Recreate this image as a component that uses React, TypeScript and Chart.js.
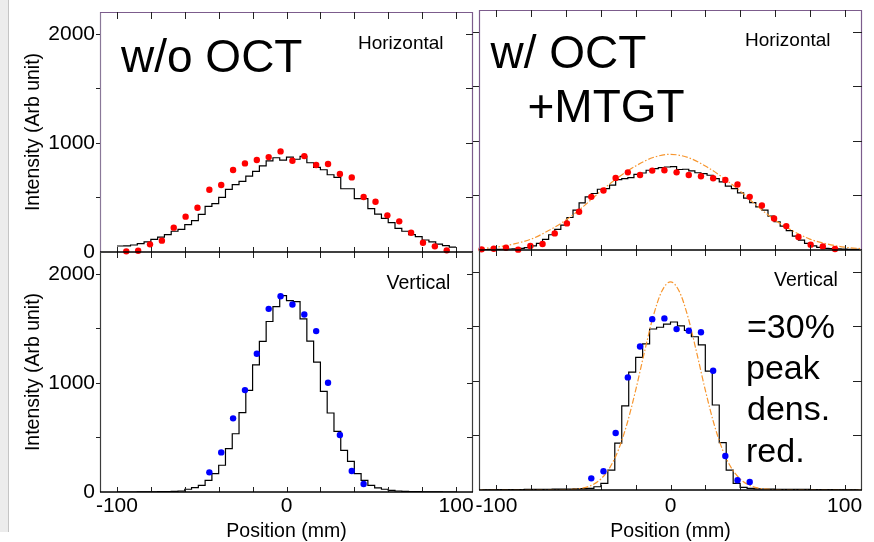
import React, { useEffect, useRef } from 'react';
import { Chart, registerables } from 'chart.js';

Chart.register(...registerables);

const FONT = '"Liberation Sans", Arial, Helvetica, sans-serif';

// ---- axis ticks ----
const X_TICKS = [-100, -80, -60, -40, -20, 0, 20, 40, 60, 80, 100];
const X_LABELS = [-100, 0, 100];
const Y_TICKS = [0, 500, 1000, 1500, 2000];
const Y_LABELS = [0, 1000, 2000];

// ---- histogram bin edges ----
const EDGES_L = [-100, -96, -92, -88, -84, -80, -76, -72, -68, -64, -60, -56, -52, -48, -44, -40, -36, -32, -28, -24, -20, -16, -12, -8, -4, 0, 4, 8, 12, 16, 20, 24, 28, 32, 36, 40, 44, 48, 52, 56, 60, 64, 68, 72, 76, 80, 84, 88, 92, 96, 100];
const EDGES_TR = [-108.5, -105, -101.5, -98, -94.5, -91, -87.5, -84, -80.5, -77, -73.5, -70, -66.5, -63, -59.5, -56, -52.5, -49, -45.5, -42, -38.5, -35, -31.5, -28, -24.5, -21, -17.5, -14, -10.5, -7, -3.5, 0, 3.5, 7, 10.5, 14, 17.5, 21, 24.5, 28, 31.5, 35, 38.5, 42, 45.5, 49, 52.5, 56, 59.5, 63, 66.5, 70, 73.5, 77, 80.5, 84, 87.5, 91, 94.5, 98, 101.5, 105, 108.5];
const EDGES_BR = [-108, -104, -100, -96, -92, -88, -84, -80, -76, -72, -68, -64, -60, -56, -52, -48, -44, -40, -36, -32, -28, -24, -20, -16, -12, -8, -4, 0, 4, 8, 12, 16, 20, 24, 28, 32, 36, 40, 44, 48, 52, 56, 60, 64, 68, 72, 76, 80, 84, 88, 92, 96, 100, 104, 108];

// ---- histogram values (simulation) ----
const TL_HIST = [55, 57, 64, 77, 92, 116, 137, 159, 190, 208, 251, 287, 345, 418, 443, 501, 574, 617, 647, 696, 739, 790, 836, 864, 842, 870, 850, 876, 818, 775, 754, 708, 684, 580, 580, 489, 489, 397, 348, 308, 269, 217, 190, 159, 141, 110, 92, 73, 58, 45];
const BL_HIST = [0, 0, 0, 1, 1, 2, 3, 4, 6, 9, 25, 40, 61, 107, 168, 245, 397, 534, 727, 931, 1166, 1380, 1563, 1700, 1800, 1755, 1746, 1587, 1383, 1191, 922, 724, 556, 382, 281, 168, 107, 61, 37, 25, 15, 9, 6, 4, 3, 2, 1, 1, 0, 0];
const TR_HIST = [4, 5, 6, 7, 9, 11, 15, 22, 37, 61, 97, 140, 189, 228, 298, 365, 432, 487, 518, 557, 563, 594, 645, 654, 664, 694, 706, 731, 746, 755, 761, 765, 738, 740, 725, 708, 700, 685, 655, 624, 586, 563, 524, 476, 435, 396, 365, 311, 259, 219, 177, 128, 91, 61, 37, 24, 15, 12, 10, 8, 6, 5];
const BR_HIST = [2, 2, 3, 3, 4, 4, 5, 5, 6, 7, 8, 9, 9, 10, 12, 15, 30, 61, 183, 430, 772, 1080, 1215, 1340, 1476, 1492, 1520, 1540, 1505, 1462, 1405, 1330, 1090, 779, 434, 183, 61, 24, 15, 11, 9, 8, 7, 6, 6, 5, 5, 4, 4, 3, 3, 2, 2, 2];

// ---- measured points ----
const TL_DOT_X = [-94.5, -87.5, -80.5, -73.5, -66.5, -59.5, -52.5, -45.5, -38.5, -31.5, -24.5, -17.5, -10.5, -3.5, 3.5, 10.5, 17.5, 24.5, 31.5, 38.5, 45.5, 52.5, 59.5, 66.5, 73.5, 80.5, 87.5, 94.5];
const TL_DOT_Y = [6, 12, 70, 104, 223, 324, 406, 571, 614, 751, 812, 843, 870, 922, 837, 879, 797, 806, 715, 684, 504, 461, 336, 281, 177, 85, 52, 15];
const TR_DOT_X = [-108.5, -101.5, -94.5, -87.5, -80.5, -73.5, -66.5, -59.5, -52.5, -45.5, -38.5, -31.5, -24.5, -17.5, -10.5, -3.5, 3.5, 10.5, 17.5, 24.5, 31.5, 38.5, 45.5, 52.5, 59.5, 66.5, 73.5, 80.5, 87.5, 94.5];
const TR_DOT_Y = [6, 12, 21, 3, 37, 55, 152, 244, 350, 487, 545, 661, 712, 688, 728, 731, 712, 688, 676, 658, 642, 600, 487, 408, 289, 219, 119, 49, 33, 9];
const V_DOT_X = [-45.5, -38.5, -31.5, -24.5, -17.5, -10.5, -3.5, 3.5, 10.5, 17.5, 24.5, 31.5, 38.5, 45.5];
const BL_DOT_Y = [180, 363, 675, 934, 1267, 1679, 1794, 1719, 1627, 1475, 1002, 522, 192, 73];
const BR_DOT_Y = [107, 172, 523, 1032, 1315, 1566, 1573, 1475, 1460, 1446, 1093, 311, 90, 73];

// ---- fitted gaussian curves ----
const TR_FIT_X = [-110, -100, -90, -80, -70, -60, -50, -40, -30, -20, -10, 0, 10, 20, 30, 40, 50, 60, 70, 80, 90, 100, 110];
const TR_FIT_Y = [12, 26, 55, 100, 178, 275, 400, 540, 665, 770, 848, 877, 848, 770, 665, 540, 400, 275, 178, 100, 55, 26, 12];
const BR_FIT_X = [-110, -90, -70, -60, -50, -45, -40, -35, -30, -25, -20, -15, -10, -5, 0, 5, 10, 15, 20, 25, 30, 35, 40, 45, 50, 60, 70, 90, 110];
const BR_FIT_Y = [0, 0, 1, 3, 19, 46, 101, 201, 365, 605, 915, 1262, 1588, 1822, 1908, 1822, 1588, 1262, 915, 605, 365, 201, 101, 46, 19, 3, 1, 0, 0];

const RED = '#ff0000';
const BLUE = '#0000ff';
const ORANGE = '#f7962f';
const PURPLE = '#7c5c8c';
const DARK = '#3c3c3c';

function histPoints(edges: number[], vals: number[]) {
  const pts = vals.map((v, i) => ({ x: edges[i], y: v }));
  pts.push({ x: edges[edges.length - 1], y: vals[vals.length - 1] });
  return pts;
}
function pairs(xs: number[], ys: number[]) {
  return xs.map((x, i) => ({ x, y: ys[i] }));
}

type TextItem = { text: string; x: number; y: number; size: number };
type Decor = {
  frameLeft: string;
  frameRight: string;
  frameTop: string | null;
  xTopIn: number;
  xBotUp: number;
  xBotDown: number;
  yLeftOut: number;
  yRightIn: number;
  texts: TextItem[];
};

function makeDecor(d: Decor) {
  return {
    id: 'decor',
    afterDatasetsDraw(chart: any) {
      const { ctx, chartArea: a, scales } = chart;
      const xs = scales.x;
      const ys = scales.y;
      ctx.save();
      const line = (x1: number, y1: number, x2: number, y2: number, c: string, w = 1) => {
        ctx.strokeStyle = c;
        ctx.lineWidth = w;
        ctx.beginPath();
        ctx.moveTo(x1, y1);
        ctx.lineTo(x2, y2);
        ctx.stroke();
      };
      const L = Math.round(a.left) + 0.5;
      const R = Math.round(a.right) - 0.5;
      const T = Math.round(a.top) + 0.5;
      const B = Math.round(a.bottom);
      // frame
      line(L, a.top, L, a.bottom, d.frameLeft, 1.2);
      line(R, a.top, R, a.bottom, d.frameRight, 1.2);
      if (d.frameTop) line(a.left, T, a.right, T, d.frameTop, 1.2);
      // x ticks
      for (const v of X_TICKS) {
        const px = Math.round(xs.getPixelForValue(v)) + 0.5;
        if (d.xTopIn > 0) line(px, a.top, px, a.top + d.xTopIn, '#222', 1);
        line(px, B - d.xBotUp, px, B + d.xBotDown, '#222', 1);
      }
      // y ticks
      for (const v of Y_TICKS) {
        const py = Math.round(ys.getPixelForValue(v)) + 0.5;
        if (v === 0) continue;
        line(a.left - d.yLeftOut, py, a.left, py, '#222', 1);
        line(a.right - d.yRightIn, py, a.right, py, '#222', 1);
      }
      // x axis line
      line(a.left, B, a.right, B, '#000', 1.6);
      // annotations
      ctx.fillStyle = '#000';
      ctx.textAlign = 'left';
      ctx.textBaseline = 'alphabetic';
      for (const t of d.texts) {
        ctx.font = `${t.size}px ${FONT}`;
        ctx.fillText(t.text, t.x, t.y);
      }
      ctx.restore();
    },
  };
}

type PanelCfg = {
  left: number;
  top: number;
  w: number;
  h: number;
  padding: { left: number; right: number; top: number; bottom: number };
  yLabels: boolean;
  xLabels: boolean;
  xAxisH: number;
  xTickPad: number;
  datasets: any[];
  decor: Decor;
};

function buildConfig(p: PanelCfg): any {
  const yScale: any = p.yLabels
    ? {
        type: 'linear',
        min: 0,
        max: 2200,
        position: 'left',
        grid: { display: false, drawTicks: false },
        border: { display: false },
        afterBuildTicks: (s: any) => {
          s.ticks = Y_LABELS.map((v) => ({ value: v }));
        },
        afterFit: (s: any) => {
          s.width = 100;
          s.paddingTop = 0;
          s.paddingBottom = 0;
        },
        ticks: {
          padding: 5,
          color: '#000',
          font: { family: FONT, size: 21 },
          callback: (v: any) => String(v),
        },
        title: {
          display: true,
          text: 'Intensity (Arb unit)',
          color: '#000',
          font: { family: FONT, size: 19.5, lineHeight: 1 },
          padding: { top: 24, bottom: 0 },
        },
      }
    : { type: 'linear', min: 0, max: 2200, display: false };
  const xScale: any = p.xLabels
    ? {
        type: 'linear',
        min: -110,
        max: 110,
        position: 'bottom',
        grid: { display: false, drawTicks: false },
        border: { display: false },
        afterBuildTicks: (s: any) => {
          s.ticks = X_LABELS.map((v) => ({ value: v }));
        },
        afterFit: (s: any) => {
          s.height = p.xAxisH;
          s.paddingLeft = 0;
          s.paddingRight = 0;
        },
        ticks: {
          padding: p.xTickPad,
          maxRotation: 0,
          autoSkip: false,
          color: '#000',
          font: { family: FONT, size: 21 },
          callback: (v: any) => String(v),
        },
        title: {
          display: true,
          text: 'Position (mm)',
          color: '#000',
          font: { family: FONT, size: 19.5, lineHeight: 1 },
          padding: { top: 0, bottom: 1 },
        },
      }
    : { type: 'linear', min: -110, max: 110, display: false };
  return {
    type: 'scatter',
    data: { datasets: p.datasets },
    options: {
      responsive: false,
      animation: false,
      events: [],
      layout: { padding: p.padding },
      scales: { x: xScale, y: yScale },
      plugins: { legend: { display: false }, tooltip: { enabled: false } },
    },
    plugins: [makeDecor(p.decor)],
  };
}

function dots(xs: number[], ys: number[], color: string) {
  return {
    data: pairs(xs, ys),
    showLine: false,
    pointRadius: 3.2,
    pointBackgroundColor: color,
    pointBorderWidth: 0,
    pointBorderColor: color,
    clip: 6,
  };
}
function hist(edges: number[], vals: number[]) {
  return {
    data: histPoints(edges, vals),
    showLine: true,
    stepped: 'before',
    borderColor: '#000',
    borderWidth: 1.2,
    pointRadius: 0,
    fill: false,
  };
}
function fit(xs: number[], ys: number[]) {
  return {
    data: pairs(xs, ys),
    showLine: true,
    borderColor: ORANGE,
    borderWidth: 1.2,
    borderDash: [6, 2, 1.5, 2],
    cubicInterpolationMode: 'monotone',
    pointRadius: 0,
    fill: false,
  };
}

const PANELS: PanelCfg[] = [
  {
    left: 0,
    top: 0,
    w: 480,
    h: 262,
    padding: { left: 0, right: 7, top: 12, bottom: 10 },
    yLabels: true,
    xLabels: false,
    xAxisH: 0,
    xTickPad: 0,
    datasets: [dots(TL_DOT_X, TL_DOT_Y, RED), hist(EDGES_L, TL_HIST)],
    decor: {
      frameLeft: '#8a7898',
      frameRight: PURPLE,
      frameTop: PURPLE,
      xTopIn: 7,
      xBotUp: 5,
      xBotDown: 6,
      yLeftOut: 4,
      yRightIn: 7,
      texts: [
        { text: 'w/o OCT', x: 121, y: 71.5, size: 46 },
        { text: 'Horizontal', x: 358, y: 49, size: 19 },
      ],
    },
  },
  {
    left: 0,
    top: 246,
    w: 480,
    h: 296,
    padding: { left: 0, right: 7, top: 6, bottom: 0 },
    yLabels: true,
    xLabels: true,
    xAxisH: 50,
    xTickPad: 2,
    datasets: [dots(V_DOT_X, BL_DOT_Y, BLUE), hist(EDGES_L, BL_HIST)],
    decor: {
      frameLeft: DARK,
      frameRight: DARK,
      frameTop: null,
      xTopIn: 0,
      xBotUp: 5,
      xBotDown: 0,
      yLeftOut: 4,
      yRightIn: 6,
      texts: [{ text: 'Vertical', x: 386.5, y: 43.3, size: 19.5 }],
    },
  },
  {
    left: 470,
    top: 0,
    w: 404,
    h: 262,
    padding: { left: 9, right: 12, top: 10, bottom: 12 },
    yLabels: false,
    xLabels: false,
    xAxisH: 0,
    xTickPad: 0,
    datasets: [dots(TR_DOT_X, TR_DOT_Y, RED), fit(TR_FIT_X, TR_FIT_Y), hist(EDGES_TR, TR_HIST)],
    decor: {
      frameLeft: PURPLE,
      frameRight: PURPLE,
      frameTop: PURPLE,
      xTopIn: 7,
      xBotUp: 5,
      xBotDown: 6,
      yLeftOut: 6,
      yRightIn: 9,
      texts: [
        { text: 'w/ OCT', x: 20.5, y: 68.3, size: 46 },
        { text: '+MTGT', x: 57.5, y: 121.7, size: 46 },
        { text: 'Horizontal', x: 275, y: 45.7, size: 19 },
      ],
    },
  },
  {
    left: 470,
    top: 244,
    w: 404,
    h: 298,
    padding: { left: 9, right: 12, top: 6, bottom: 0 },
    yLabels: false,
    xLabels: true,
    xAxisH: 52,
    xTickPad: 4,
    datasets: [dots(V_DOT_X, BR_DOT_Y, BLUE), fit(BR_FIT_X, BR_FIT_Y), hist(EDGES_BR, BR_HIST)],
    decor: {
      frameLeft: DARK,
      frameRight: DARK,
      frameTop: null,
      xTopIn: 0,
      xBotUp: 5,
      xBotDown: 0,
      yLeftOut: 6,
      yRightIn: 9,
      texts: [
        { text: 'Vertical', x: 304, y: 42, size: 19.5 },
        { text: '=30%', x: 277, y: 93.7, size: 34 },
        { text: 'peak', x: 276, y: 135.3, size: 34 },
        { text: 'dens.', x: 277, y: 176, size: 34 },
        { text: 'red.', x: 276, y: 218.3, size: 34 },
      ],
    },
  },
];

function Panel({ cfg }: { cfg: PanelCfg }) {
  const ref = useRef<HTMLCanvasElement | null>(null);
  useEffect(() => {
    if (!ref.current) return;
    const chart = new Chart(ref.current, buildConfig(cfg));
    return () => chart.destroy();
  }, [cfg]);
  return (
    <canvas
      ref={ref}
      width={cfg.w}
      height={cfg.h}
      style={{ position: 'absolute', left: cfg.left, top: cfg.top, width: cfg.w, height: cfg.h }}
    />
  );
}

export default function App() {
  return (
    <div
      style={{
        position: 'fixed',
        left: 0,
        top: 0,
        width: 874,
        height: 542,
        background: '#ffffff',
        overflow: 'hidden',
      }}
    >
      <div
        style={{
          position: 'absolute',
          left: 0,
          top: 0,
          width: 8,
          height: 532,
          background: '#ececec',
          borderRight: '1px solid #c4c4c4',
        }}
      />
      {PANELS.map((p, i) => (
        <Panel key={i} cfg={p} />
      ))}
    </div>
  );
}
